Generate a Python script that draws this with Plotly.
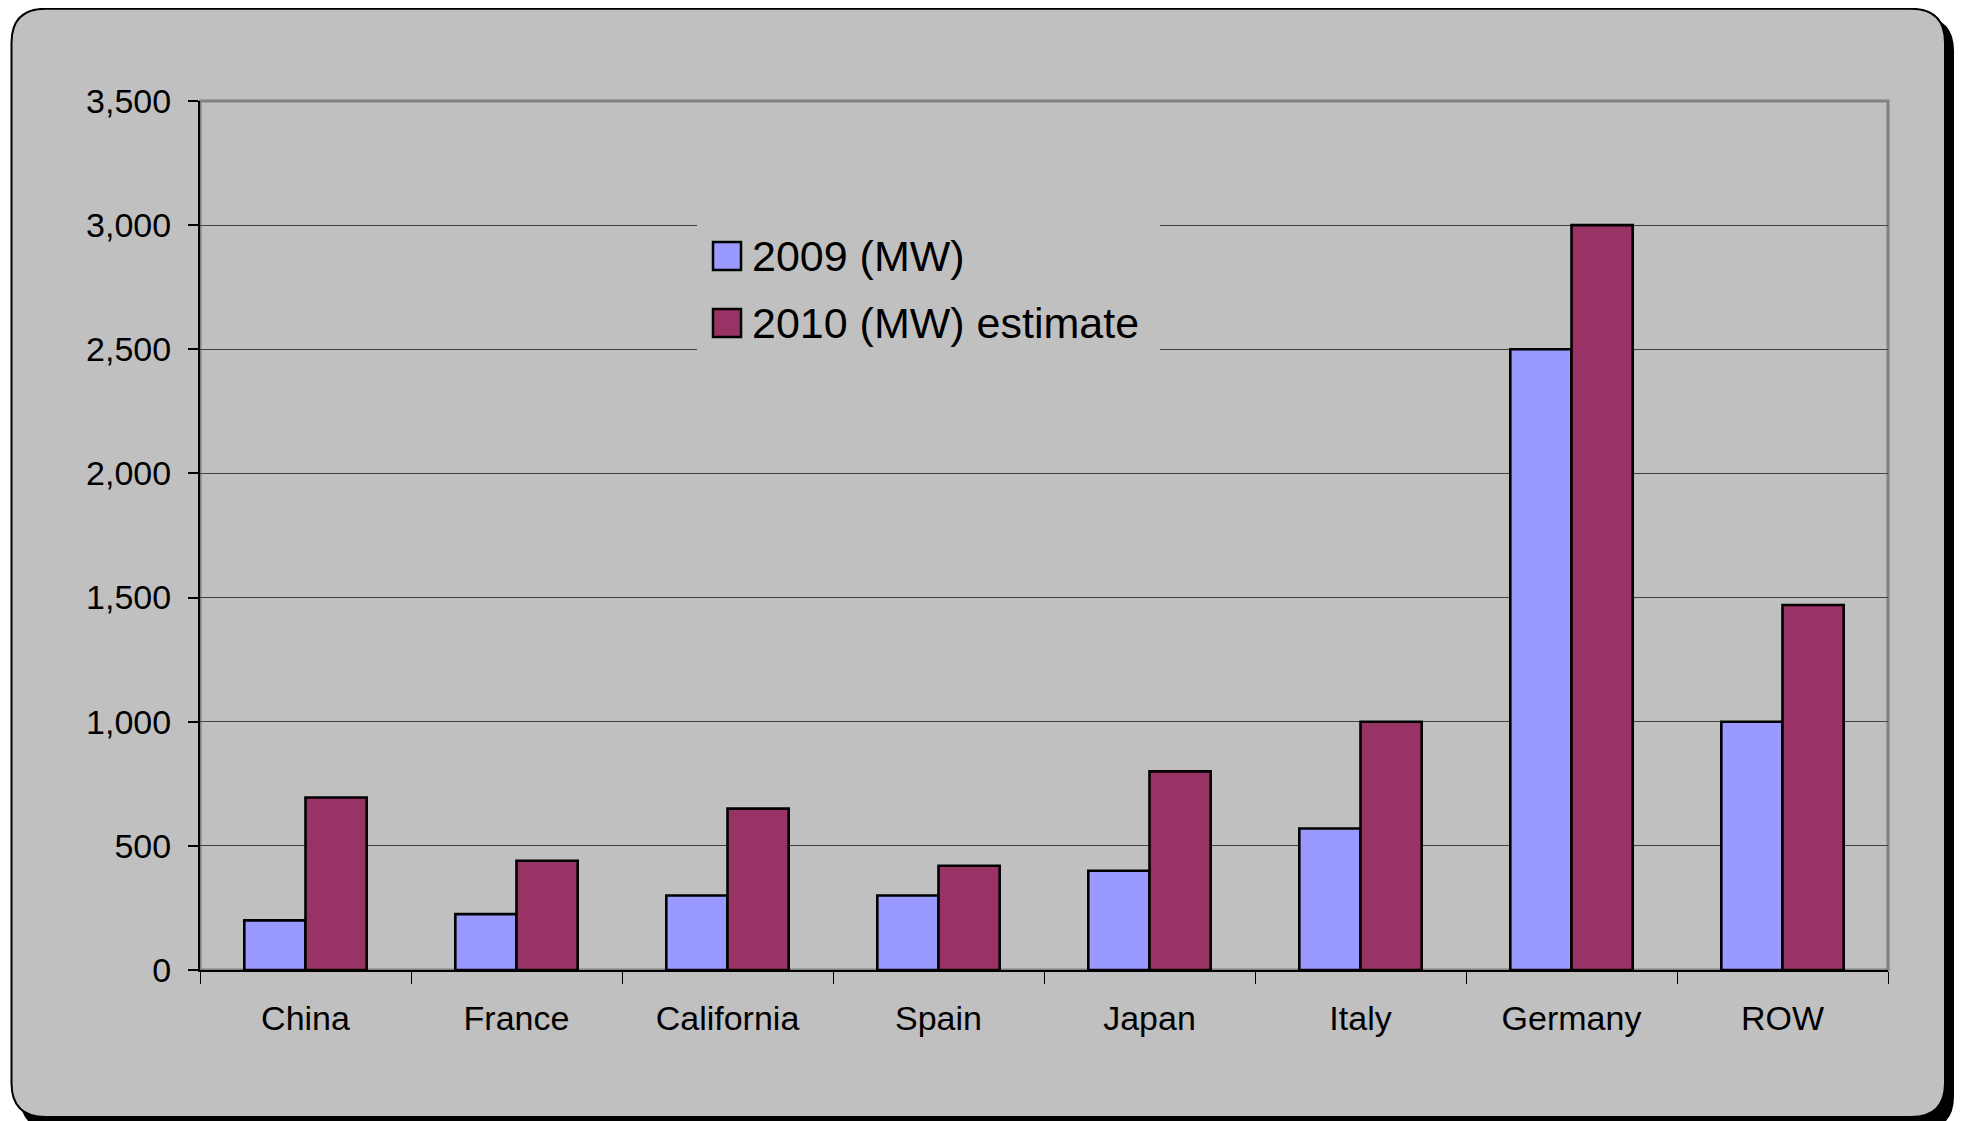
import plotly.graph_objects as go

# ---- data ----
categories = ["China", "France", "California", "Spain", "Japan", "Italy", "Germany", "ROW"]
mw_2009 = [200, 225, 300, 300, 400, 570, 2500, 1000]
mw_2010 = [695, 440, 650, 420, 800, 1000, 3000, 1470]
series_names = ["2009 (MW)", "2010 (MW) estimate"]
series_colors = ["#9999FF", "#993366"]
y_ticks = [0, 500, 1000, 1500, 2000, 2500, 3000, 3500]

# The page body has an 8px margin, so work in page pixels and shift by it.
OFF = 8
W, H = 1963 - OFF, 1121 - OFF
L, R, T, B = 200 - OFF, 1888 - OFF, 101 - OFF, 970 - OFF  # plot area in figure pixels


def px(x):  # page pixel -> paper x
    return (x - OFF - L) / (R - L)


def py(y):  # page pixel -> paper y
    return (B - (y - OFF)) / (B - T)


def rounded_rect(x0, y0, x1, y1, r):
    a, b, c, d = px(x0), px(x1), py(y0), py(y1)
    rx = r / (R - L)
    ry = r / (B - T)
    return (f"M{a + rx},{c} L{b - rx},{c} Q{b},{c} {b},{c - ry} "
            f"L{b},{d + ry} Q{b},{d} {b - rx},{d} L{a + rx},{d} "
            f"Q{a},{d} {a},{d + ry} L{a},{c - ry} Q{a},{c} {a + rx},{c} Z")


FONT = "Liberation Sans, Arial, sans-serif"

fig = go.Figure()
for name, vals, col in zip(series_names, [mw_2009, mw_2010], series_colors):
    fig.add_trace(go.Bar(
        x=categories, y=vals, name=name,
        marker=dict(color=col, line=dict(color="black", width=2.6)),
        showlegend=False,
    ))

shapes = [
    # shadow
    dict(type="path", xref="paper", yref="paper", layer="below",
         path=rounded_rect(20, 17, 1954, 1130, 34),
         fillcolor="black", line=dict(width=0)),
    # chart frame
    dict(type="path", xref="paper", yref="paper", layer="below",
         path=rounded_rect(11.5, 8.8, 1945, 1117, 34),
         fillcolor="#C0C0C0", line=dict(color="black", width=2)),
    # plot area border
    dict(type="rect", xref="paper", yref="paper", layer="below",
         x0=0, x1=1, y0=0, y1=1, line=dict(color="#808080", width=3)),
    # legend background
    dict(type="rect", xref="paper", yref="paper", layer="above",
         x0=px(697), x1=px(1160), y0=py(215), y1=py(362),
         fillcolor="#C0C0C0", line=dict(width=0)),
]
annotations = []
rows_y = [256, 323]
for name, col, yc in zip(series_names, series_colors, rows_y):
    shapes.append(dict(type="rect", xref="paper", yref="paper", layer="above",
                       x0=px(713), x1=px(741), y0=py(yc + 14), y1=py(yc - 14),
                       fillcolor=col, line=dict(color="black", width=2.5)))
    annotations.append(dict(xref="paper", yref="paper", x=px(750), y=py(yc),
                            xanchor="left", yanchor="middle", showarrow=False,
                            text=name, font=dict(family=FONT, size=43, color="black")))

fig.update_layout(
    width=W, height=H,
    margin=dict(l=L, r=W - R, t=T, b=H - B, pad=0),
    paper_bgcolor="white",
    plot_bgcolor="rgba(0,0,0,0)",
    barmode="group", bargap=0.42, bargroupgap=0,
    font=dict(family=FONT, size=34, color="black"),
    shapes=shapes, annotations=annotations,
    showlegend=False,
)
fig.update_xaxes(
    showline=True, linecolor="black", linewidth=2,
    ticks="outside", tickson="boundaries", ticklen=12, tickcolor="black", tickwidth=1,
    showgrid=False, ticklabelstandoff=17,
    tickfont=dict(family=FONT, size=34, color="black"),
)
fig.update_yaxes(
    range=[0, 3500], tickvals=y_ticks, tickformat=",",
    showline=True, linecolor="black", linewidth=2,
    ticks="outside", ticklen=10, tickcolor="black", tickwidth=2,
    showgrid=True, gridcolor="#404040", gridwidth=1, zeroline=False,
    ticklabelstandoff=10,
    tickfont=dict(family=FONT, size=34, color="black"),
)

fig.write_html("out.html")
